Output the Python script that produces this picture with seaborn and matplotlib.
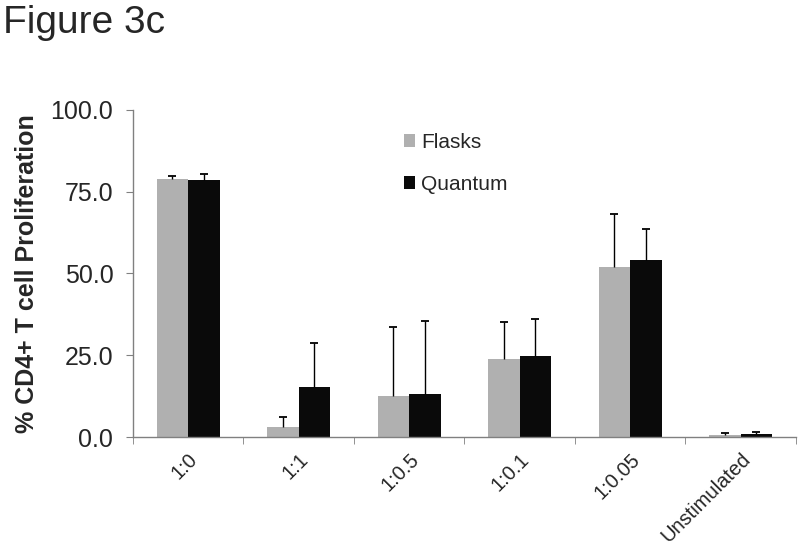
import numpy as np
import pandas as pd
import matplotlib
matplotlib.use("Agg")
import matplotlib.pyplot as plt
import seaborn as sns

categories = ["1:0", "1:1", "1:0.5", "1:0.1", "1:0.05", "Unstimulated"]
flasks = [78.9, 3.0, 12.5, 23.9, 51.9, 0.7]
quantum = [78.5, 15.4, 13.1, 24.8, 54.1, 0.9]
flasks_err = [0.8, 3.2, 21.0, 11.3, 16.3, 0.5]
quantum_err = [1.8, 13.3, 22.5, 11.3, 9.5, 0.6]
series = ["Flasks", "Quantum"]
colors = ["#b0b0b0", "#0a0a0a"]
yticks = [0.0, 25.0, 50.0, 75.0, 100.0]

sns.set_style("white")
plt.rcParams["font.family"] = ["Liberation Sans", "DejaVu Sans"]

df = pd.DataFrame({
    "cat": categories * 2,
    "val": flasks + quantum,
    "series": [series[0]] * len(categories) + [series[1]] * len(categories),
})

fig = plt.figure(figsize=(8, 5.49), dpi=100)
ax = fig.add_axes([0.166, 0.204, 0.829, 0.596])

sns.barplot(data=df, x="cat", y="val", hue="series", palette=colors,
            order=categories, hue_order=series, width=0.57, errorbar=None,
            saturation=1, ax=ax, legend=True, linewidth=0, edgecolor="none")

errs = [flasks_err, quantum_err]
vals = [flasks, quantum]
bar_conts = list(ax.containers)
for i, cont in enumerate(bar_conts):
    xs = np.array([p.get_x() + p.get_width() / 2 for p in cont.patches])
    v = np.array(vals[i])
    e = np.array(errs[i])
    ax.vlines(xs, v, v + e, colors="black", linewidth=1.0, zorder=3)
    ax.scatter(xs, v + e, marker="_", s=40, color="black", linewidths=1.3, zorder=3)

ax.set_ylim(0, 100)
ax.set_xlim(-0.5, len(categories) - 0.5)
ax.set_yticks(yticks)
ax.set_yticklabels([f"{t:.1f}" for t in yticks], fontsize=18)
ax.set_xticks(range(len(categories)))
ax.set_xticklabels(categories, rotation=45, ha="right", rotation_mode="anchor", fontsize=14.5)
ax.tick_params(axis="x", length=0, pad=9)
ax.set_xticks(np.arange(-0.5, len(categories) + 0.5, 1), minor=True)
ax.tick_params(axis="x", which="minor", length=5, direction="out", color="#808080", bottom=True)
ax.tick_params(axis="y", length=5, direction="out", color="#808080", left=True, pad=9)
ax.set_xlabel("")
ax.set_ylabel("% CD4+ T cell Proliferation", fontsize=18, fontweight="bold")
ax.yaxis.set_label_coords(-0.142, 0.5)

for s in ["top", "right"]:
    ax.spines[s].set_visible(False)
for s in ["left", "bottom"]:
    ax.spines[s].set_color("#808080")
    ax.spines[s].set_linewidth(1.0)

leg = ax.legend(loc="upper left", bbox_to_anchor=(0.38, 0.987), frameon=False,
                fontsize=15, handlelength=0.55, handleheight=0.55, handletextpad=0.3,
                labelspacing=1.1)

fig.text(0.004, 0.99, "Figure 3c", fontsize=28, ha="left", va="top")

fig.savefig("out.png", dpi=100)
